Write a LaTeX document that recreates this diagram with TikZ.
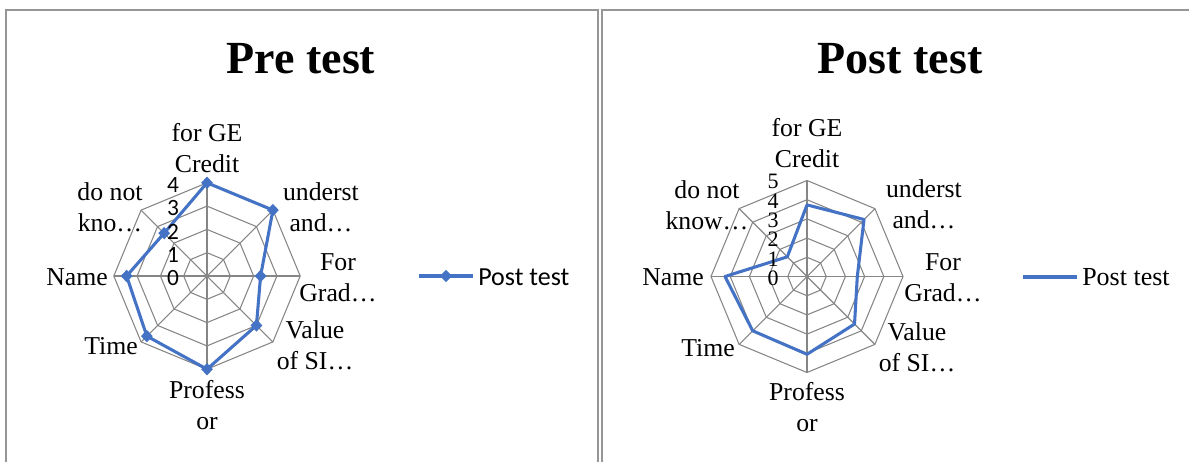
\documentclass[tikz,border=0pt]{standalone}
\usepackage{fontspec}
\setmainfont{Liberation Serif}
\newfontfamily\calfont{Carlito}
\usetikzlibrary{shapes.geometric}
\definecolor{serblue}{RGB}{68,114,196}
\definecolor{gridgray}{RGB}{134,134,134}
\definecolor{framegray}{RGB}{150,150,150}
\begin{document}
\begin{tikzpicture}[x=0.75pt,y=-0.75pt,
  gridline/.style={draw=gridgray,line width=0.8pt},
  serline/.style={draw=serblue,line width=2.3pt,line join=round},
  marker/.style={diamond,fill=serblue,inner sep=0pt,minimum width=9pt,minimum height=9.5pt},
  cat/.style={font=\fontsize{19.3}{23.25}\selectfont,align=center,anchor=base,inner sep=0pt},
  charttitle/.style={font=\fontsize{34.5}{36}\selectfont\bfseries,anchor=base,inner sep=0pt},
  calnum/.style={font=\calfont\fontsize{17.5}{18}\selectfont,inner sep=0pt},
  timesnum/.style={font=\fontsize{16.5}{18}\selectfont,inner sep=0pt},
  frame/.style={draw=framegray,line width=1.5pt}]
\useasboundingbox (0,0) rectangle (1189,462);
% frames
\coordinate (f1) at (6,462); \coordinate (f2) at (6,10);
\coordinate (f3) at (598,10); \coordinate (f4) at (598,462);
\draw[frame] (f1) -- (f2) -- (f3) -- (f4);
\coordinate (g1) at (602,462); \coordinate (g2) at (602,10);
\coordinate (g3) at (1189,10);
\draw[frame] (g1) -- (g2) -- (g3);
% titles
\node[charttitle] (t1) at (301,73) {Pre test};
\node[charttitle] (t2) at (900,73) {Post test};

% ---------- left chart ----------
\begin{scope}[shift={(207,276)}]
  \foreach \i in {1,...,4}
    \draw[gridline] (-90:{\i*23.3}) \foreach \k in {1,...,7}{ -- ({-90+45*\k}:{\i*23.3})} -- cycle;
  \coordinate (LC) at (0,0);
  \foreach \k in {0,...,7} {
    \coordinate (LO\k) at ({-90+45*\k}:93.2);
    \draw[gridline] (LC) -- (LO\k);
  }
  \foreach \v [count=\k from 0] in {4,4,2.3,3,4,3.65,3.45,2.6}
    \coordinate (L\k) at ({-90+45*\k}:{\v*23.3});
  \draw[serline] (L0) -- (L1) -- (L2) -- (L3) -- (L4) -- (L5) -- (L6) -- (L7) -- cycle;
  \foreach \k in {0,...,7} \node[marker] (LM\k) at (L\k) {};
  \foreach \n in {0,...,4}
    \node[calnum] (LN\n) at (-34,{2.3-\n*23.3}) {\n};
\end{scope}
\node[cat] (la0) at (207,172.5) {for GE\\Credit};
\node[cat] (la1) at (321,231) {underst\\and…};
\node[cat] (la2) at (338,301) {For\\Grad…};
\node[cat] (la3) at (315,369) {Value\\of SI…};
\node[cat] (la4) at (207,429) {Profess\\or};
\node[cat] (la5) at (111,354) {Time};
\node[cat] (la6) at (77,285) {Name};
\node[cat] (la7) at (110,231) {do not\\kno…};
% left legend
\coordinate (lg1) at (419,276); \coordinate (lg2) at (473,276);
\draw[serline] (lg1) -- (lg2);
\node[marker] (lgm) at (446,276) {};
\node[font=\calfont\fontsize{19.5}{22}\selectfont,anchor=base west,inner sep=0pt] (lgt) at (478,285) {Post test};

% ---------- right chart ----------
\begin{scope}[shift={(807,276.5)}]
  \foreach \i in {1,...,5}
    \draw[gridline] (-90:{\i*19.2}) \foreach \k in {1,...,7}{ -- ({-90+45*\k}:{\i*19.2})} -- cycle;
  \coordinate (RC) at (0,0);
  \foreach \k in {0,...,7} {
    \coordinate (RO\k) at ({-90+45*\k}:96);
    \draw[gridline] (RC) -- (RO\k);
  }
  \foreach \v [count=\k from 0] in {3.73,4.2,2.62,3.5,4.05,4.0,4.27,1.45}
    \coordinate (R\k) at ({-90+45*\k}:{\v*19.2});
  \draw[serline] (R0) -- (R1) -- (R2) -- (R3) -- (R4) -- (R5) -- (R6) -- (R7) -- cycle;
  \foreach \n in {0,...,5}
    \node[timesnum] (RN\n) at (-34,{1.8-\n*19.3}) {\n};
\end{scope}
\node[cat] (ra0) at (807,167.7) {for GE\\Credit};
\node[cat] (ra1) at (924,228) {underst\\and…};
\node[cat] (ra2) at (943,301) {For\\Grad…};
\node[cat] (ra3) at (917,371) {Value\\of SI…};
\node[cat] (ra4) at (807,431) {Profess\\or};
\node[cat] (ra5) at (708,356) {Time};
\node[cat] (ra6) at (673,285) {Name};
\node[cat] (ra7) at (707,229) {do not\\know…};
% right legend
\coordinate (rg1) at (1023,277); \coordinate (rg2) at (1077,277);
\draw[serline] (rg1) -- (rg2);
\node[font=\fontsize{19.5}{22}\selectfont,anchor=base west,inner sep=0pt] (rgt) at (1082,285.7) {Post test};
\end{tikzpicture}
\end{document}
